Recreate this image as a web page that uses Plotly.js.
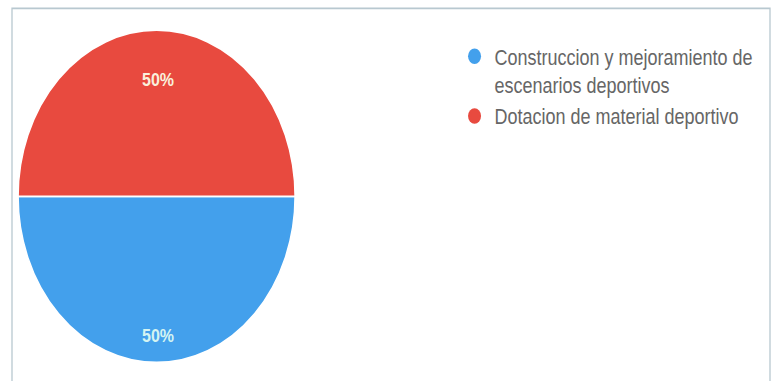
<!DOCTYPE html>
<html>
<head>
<meta charset="utf-8">
<script src="https://cdn.plot.ly/plotly-3.0.1.min.js"></script>
<style>
  html, body { margin: 0; padding: 0; background: #ffffff; overflow: hidden; }
  #wrap { width: 781px; height: 381px; overflow: hidden; }
  #chart { width: 781px; height: 318px; transform: scaleY(1.2); transform-origin: 0 0; }
</style>
</head>
<body>
<div id="wrap"><div id="chart"></div></div>
<script>
// Data
const categories = ["Construccion y mejoramiento de<br>escenarios deportivos", "Dotacion de material deportivo"];
const values = [50, 50];
const colors = ["#43a0ec", "#e84a3f"];
const labelColors = ["#d4f4f2", "#faf0dc"];
// vertical placement of each slice's percent label (paper coords)
const labelY = [0.122, 0.790];

const total = values.reduce((a, b) => a + b, 0);

const pie = {
  type: "pie",
  labels: categories,
  values: values,
  sort: false,
  direction: "clockwise",
  rotation: 90,
  marker: { colors: colors, line: { color: "#ffffff", width: 1.5 } },
  textinfo: "none",
  domain: { x: [0.023, 0.378], y: [0.050, 0.921] },
  showlegend: false,
  hoverinfo: "label+percent"
};

// Legend entries with circular symbols, one per category
const legendTraces = categories.map((c, i) => ({
  type: "scatter",
  mode: "markers",
  x: [null], y: [null],
  name: c,
  marker: { color: colors[i], size: 13, symbol: "circle" },
  showlegend: true,
  hoverinfo: "skip"
}));

const annotations = values.map((v, i) => ({
  xref: "paper", yref: "paper",
  x: 0.202, y: labelY[i],
  xanchor: "center", yanchor: "middle",
  text: Math.round(v / total * 100) + "%",
  showarrow: false,
  font: { family: "Liberation Sans Narrow, Arial, sans-serif", size: 16, color: labelColors[i], weight: "bold" }
}));

const layout = {
  width: 781,
  height: 318,
  margin: { l: 0, r: 0, t: 0, b: 0 },
  paper_bgcolor: "#ffffff",
  plot_bgcolor: "#ffffff",
  xaxis: { visible: false },
  yaxis: { visible: false },
  showlegend: true,
  legend: {
    x: 0.582, xanchor: "left",
    y: 0.91, yanchor: "top",
    valign: "top",
    itemwidth: 30,
    font: { family: "Liberation Sans, Arial, sans-serif", size: 18, color: "#666666" },
    bgcolor: "rgba(0,0,0,0)",
    tracegroupgap: 0,
    traceorder: "normal"
  },
  annotations: annotations,
  shapes: [{
    type: "rect", xref: "paper", yref: "paper",
    x0: 12 / 781, x1: 770 / 781, y0: -0.1, y1: 1 - 7 / 318,
    line: { color: "#b8c8d0", width: 1.3 }
  }]
};

Plotly.newPlot("chart", [pie].concat(legendTraces), layout, { displayModeBar: false, staticPlot: true });
</script>
</body>
</html>
